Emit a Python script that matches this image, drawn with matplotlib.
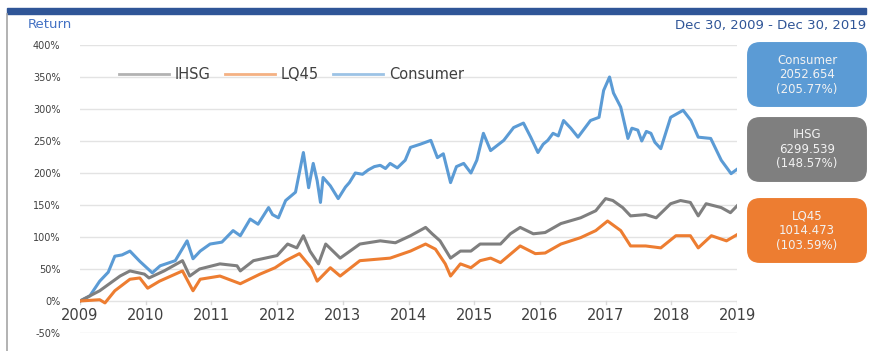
import matplotlib.pyplot as plt
from matplotlib.patches import FancyBboxPatch, Rectangle
from matplotlib.lines import Line2D

# values (year, cumulative return in %)
consumer_x = [2009.00, 2009.15, 2009.30, 2009.43, 2009.53, 2009.64, 2009.76, 2009.91, 2010.10, 2010.22,
              2010.45, 2010.63, 2010.72, 2010.83, 2010.98, 2011.16, 2011.33, 2011.44, 2011.59, 2011.71,
              2011.87, 2011.93, 2012.02, 2012.13, 2012.28, 2012.40, 2012.48, 2012.55, 2012.61, 2012.66,
              2012.70, 2012.81, 2012.93, 2013.04, 2013.10, 2013.19, 2013.30, 2013.39, 2013.48, 2013.57,
              2013.65, 2013.72, 2013.83, 2013.95, 2014.03, 2014.18, 2014.34, 2014.44, 2014.53, 2014.64,
              2014.73, 2014.84, 2014.95, 2015.04, 2015.14, 2015.25, 2015.45, 2015.60, 2015.75, 2015.86,
              2015.97, 2016.05, 2016.12, 2016.20, 2016.28, 2016.36, 2016.47, 2016.58, 2016.77, 2016.90,
              2016.97, 2017.06, 2017.12, 2017.23, 2017.34, 2017.40, 2017.49, 2017.55, 2017.62, 2017.69,
              2017.75, 2017.84, 2017.99, 2018.18, 2018.30, 2018.41, 2018.60, 2018.76, 2018.91, 2019.00]
consumer_y = [0, 8, 31, 45, 70, 72, 78, 62, 44, 55,
              63, 94, 66, 78, 89, 92, 110, 102, 128, 120,
              146, 135, 130, 157, 170, 232, 177, 215, 188, 154,
              193, 180, 160, 178, 185, 200, 198, 205, 210, 212,
              207, 215, 208, 220, 240, 245, 251, 224, 230, 185,
              210, 215, 200, 220, 262, 235, 251, 271, 278, 256,
              232, 245, 251, 262, 258, 282, 270, 256, 282, 287,
              329, 350, 325, 303, 254, 270, 267, 250, 265, 262,
              248, 238, 287, 298, 282, 256, 254, 220, 199, 205.77]

ihsg_x = [2009.00, 2009.30, 2009.61, 2009.76, 2009.98, 2010.05, 2010.28, 2010.56, 2010.67, 2010.82,
          2011.13, 2011.39, 2011.44, 2011.64, 2012.00, 2012.16, 2012.30, 2012.40, 2012.50, 2012.63,
          2012.74, 2012.96, 2013.26, 2013.57, 2013.80, 2014.03, 2014.26, 2014.36, 2014.48, 2014.64,
          2014.79, 2014.95, 2015.09, 2015.40, 2015.55, 2015.70, 2015.90, 2016.08, 2016.32, 2016.62,
          2016.85, 2017.00, 2017.11, 2017.26, 2017.38, 2017.61, 2017.77, 2017.99, 2018.14, 2018.29,
          2018.41, 2018.53, 2018.76, 2018.90, 2019.00]
ihsg_y = [0, 16, 39, 47, 42, 36, 47, 63, 39, 50,
          58, 55, 47, 63, 71, 89, 83, 102, 78, 58,
          89, 67, 89, 94, 91, 102, 115, 105, 94, 67,
          78, 78, 89, 89, 105, 115, 105, 107, 121, 130,
          141, 160, 157, 146, 133, 135, 130, 152, 157, 154,
          133, 152, 146, 138, 148.57]

lq45_x = [2009.00, 2009.30, 2009.38, 2009.53, 2009.76, 2009.91, 2010.03, 2010.21, 2010.56, 2010.72,
          2010.83, 2011.13, 2011.44, 2011.74, 2011.97, 2012.13, 2012.34, 2012.52, 2012.61, 2012.81,
          2012.96, 2013.26, 2013.72, 2014.03, 2014.26, 2014.41, 2014.56, 2014.64, 2014.79, 2014.95,
          2015.09, 2015.25, 2015.40, 2015.70, 2015.93, 2016.08, 2016.32, 2016.62, 2016.85, 2017.03,
          2017.23, 2017.38, 2017.61, 2017.84, 2018.07, 2018.29, 2018.41, 2018.61, 2018.84, 2019.00]
lq45_y = [0, 2, -3, 16, 34, 36, 20, 31, 47, 16,
          34, 39, 27, 42, 52, 63, 74, 52, 31, 52,
          39, 63, 67, 78, 89, 81, 58, 39, 58, 52,
          63, 67, 60, 86, 74, 75, 89, 99, 110, 125,
          110, 86, 86, 83, 102, 102, 83, 102, 94, 103.59]

years = list(range(2009, 2020))
yticks = list(range(-50, 401, 50))

boxes = [
    ("Consumer", "2052.654", "(205.77%)", "#5B9BD5"),
    ("IHSG", "6299.539", "(148.57%)", "#7F7F7F"),
    ("LQ45", "1014.473", "(103.59%)", "#ED7D31"),
]

c_ihsg = "#7F7F7F"
c_lq45 = "#ED7D31"
c_cons = "#5B9BD5"

W, H = 875, 351
fig = plt.figure(figsize=(8.75, 3.51), dpi=100)
fig.patch.set_facecolor("white")

# frame: blue top bar and left border
fig.patches.append(Rectangle((7 / W, 1 - 14 / H), (866 - 7) / W, 6 / H,
                             transform=fig.transFigure, color="#2F5597", zorder=0))
fig.add_artist(Line2D([7 / W, 7 / W], [0, 1 - 14 / H], transform=fig.transFigure,
                      color="#A6A6A6", lw=1.2))

ax = fig.add_axes([80 / W, 1 - 333 / H, (737 - 80) / W, (333 - 45) / H])
ax.plot(ihsg_x, ihsg_y, color=c_ihsg, lw=2.2, label="IHSG", zorder=3)
ax.plot(lq45_x, lq45_y, color=c_lq45, lw=2.2, label="LQ45", zorder=4)
ax.plot(consumer_x, consumer_y, color=c_cons, lw=2.2, label="Consumer", zorder=2)

ax.set_xlim(2009, 2019)
ax.set_ylim(-50, 400)
ax.set_yticks(yticks)
ax.set_yticklabels([f"{v}%" for v in yticks], fontsize=7, color="#404040")
ax.tick_params(axis="y", length=0, pad=14)
ax.set_xticks([])
for s in ax.spines.values():
    s.set_visible(False)
ax.grid(axis="y", color="#E3E3E3", lw=1)
ax.set_axisbelow(True)

# year labels sit between the 0% and -50% lines
for yr in years:
    ax.plot([yr, yr], [0, -4], color="#D9D9D9", lw=1, zorder=1)
    ax.text(yr, -23, str(yr), ha="center", va="center", fontsize=10.5, color="#404040")

leg = ax.legend(loc="upper left", bbox_to_anchor=(0.04, 0.97), ncol=3, frameon=False,
                fontsize=10.5, handlelength=3.4, columnspacing=1.0, handletextpad=0.4)
for h in leg.legend_handles:
    h.set_alpha(0.6)
    h.set_linewidth(2)
for t in leg.get_texts():
    t.set_color("#404040")

fig.text(28 / W, 1 - 25 / H, "Return", fontsize=9.5, color="#4472C4", va="center",
         fontweight="medium")
fig.text(866 / W, 1 - 25 / H, "Dec 30, 2009 - Dec 30, 2019", fontsize=9.5,
         color="#2F5597", ha="right", va="center", fontweight="medium")

box_tops = [43, 118, 199]
box_h = 63
for (name, val, pct, col), top in zip(boxes, box_tops):
    x0, x1 = 748, 866
    fig.patches.append(FancyBboxPatch(((x0 + 5) / W, 1 - (top + box_h - 5) / H),
                                      (x1 - x0 - 10) / W, (box_h - 10) / H,
                                      boxstyle="round,pad=0.006,rounding_size=0.014",
                                      transform=fig.transFigure, facecolor=col,
                                      edgecolor=col, mutation_aspect=W / H))
    fig.text((x0 + x1) / 2 / W, 1 - (top + box_h / 2) / H, f"{name}\n{val}\n{pct}",
             ha="center", va="center", fontsize=8.5, color="#F2F2F2", linespacing=1.15)

fig.savefig("out.png", dpi=100)
